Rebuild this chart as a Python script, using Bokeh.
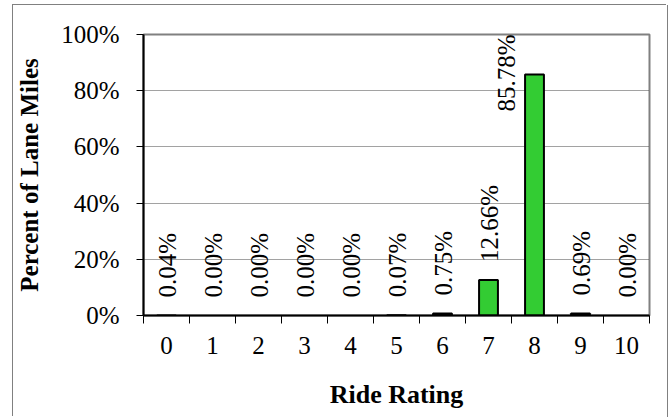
from bokeh.plotting import figure
from bokeh.models import ColumnDataSource, FixedTicker, PrintfTickFormatter, Range1d
from bokeh.core.properties import value
from bokeh.embed import file_html
from bokeh.resources import INLINE
import math

# ---- data ----
ratings = [0, 1, 2, 3, 4, 5, 6, 7, 8, 9, 10]
percent = [0.04, 0.00, 0.00, 0.00, 0.00, 0.07, 0.75, 12.66, 85.78, 0.69, 0.00]
y_ticks = [0, 20, 40, 60, 80, 100]
x_title = "Ride Rating"
y_title = "Percent of Lane Miles"

SERIF = "Liberation Serif"

p = figure(width=654, height=412, output_backend="svg", toolbar_location=None,
           x_range=Range1d(-0.5, 10.5), y_range=Range1d(0, 100))
p.min_border_left = 130
p.min_border_right = 18
p.min_border_top = 29
p.min_border_bottom = 102
p.background_fill_color = "white"
p.border_fill_color = "white"
p.outline_line_color = "#808080"
p.outline_line_width = 2
# outer chart frame: left, top and right edges (bottom edge lies outside the view)
p.styles = {"margin-left": "13px", "margin-top": "5px",
            "box-shadow": "-1px -1px 0 0 #808080, 1px 0 0 0 #808080"}

# grid
p.xgrid.visible = False
p.ygrid.ticker = FixedTicker(ticks=y_ticks)
p.ygrid.grid_line_color = "#444444"
p.ygrid.grid_line_width = 1
p.ygrid.grid_line_dash = "1 1"

# bars (only non-zero heights produce a visible bar)
bx = [r for r, v in zip(ratings, percent) if v > 0]
bv = [v for v in percent if v > 0]
src = ColumnDataSource(dict(x=bx, top=bv))
p.vbar(x="x", top="top", bottom=0, width=0.41, source=src,
       fill_color="#33CC33", line_color="black", line_width=2)

# data labels
lab = ["%.2f%%" % v for v in percent]
normal = [i for i, v in enumerate(percent) if v <= 70]
high = [i for i, v in enumerate(percent) if v > 70]
s1 = ColumnDataSource(dict(x=[ratings[i] for i in normal], y=[percent[i] for i in normal],
                           t=[lab[i] for i in normal]))
p.text(x="x", y="y", text="t", source=s1, angle=math.pi / 2,
       text_align="left", text_baseline="middle", y_offset=-18, x_offset=1,
       text_font=value(SERIF), text_font_size="25px", text_color="black")
s2 = ColumnDataSource(dict(x=[ratings[i] for i in high], y=[100 for i in high],
                           t=[lab[i] for i in high]))
p.text(x="x", y="y", text="t", source=s2, angle=math.pi / 2,
       text_align="right", text_baseline="middle", x_offset=-28, y_offset=0,
       text_font=value(SERIF), text_font_size="25px", text_color="black")

# x axis: labels at centers, tick marks at category boundaries
xa = p.xaxis[0]
xa.ticker = FixedTicker(ticks=ratings, minor_ticks=[r - 0.5 for r in ratings] + [ratings[-1] + 0.5])
xa.major_tick_out = 0
xa.major_tick_in = 0
xa.minor_tick_out = 8
xa.minor_tick_in = 0
xa.minor_tick_line_color = "black"
xa.axis_line_color = "black"
xa.axis_line_width = 2
xa.major_label_standoff = 13
xa.major_label_text_font = SERIF
xa.major_label_text_font_size = "25px"
xa.major_label_text_color = "black"
xa.axis_label = x_title
xa.axis_label_text_font = SERIF
xa.axis_label_text_font_size = "26px"
xa.axis_label_text_font_style = "bold"
xa.axis_label_text_color = "black"
xa.axis_label_standoff = 23

ya = p.yaxis[0]
ya.ticker = FixedTicker(ticks=y_ticks, minor_ticks=[])
ya.formatter = PrintfTickFormatter(format="%d%%")
ya.major_tick_out = 7
ya.major_tick_in = 0
ya.major_tick_line_color = "black"
ya.axis_line_color = "black"
ya.axis_line_width = 2
ya.major_label_standoff = 17
ya.major_label_text_font = SERIF
ya.major_label_text_font_size = "25px"
ya.major_label_text_color = "black"
ya.axis_label = y_title
ya.axis_label_text_font = SERIF
ya.axis_label_text_font_size = "25px"
ya.axis_label_text_font_style = "bold"
ya.axis_label_text_color = "black"
ya.axis_label_standoff = 15

open("out.html", "w").write(file_html(p, INLINE))
